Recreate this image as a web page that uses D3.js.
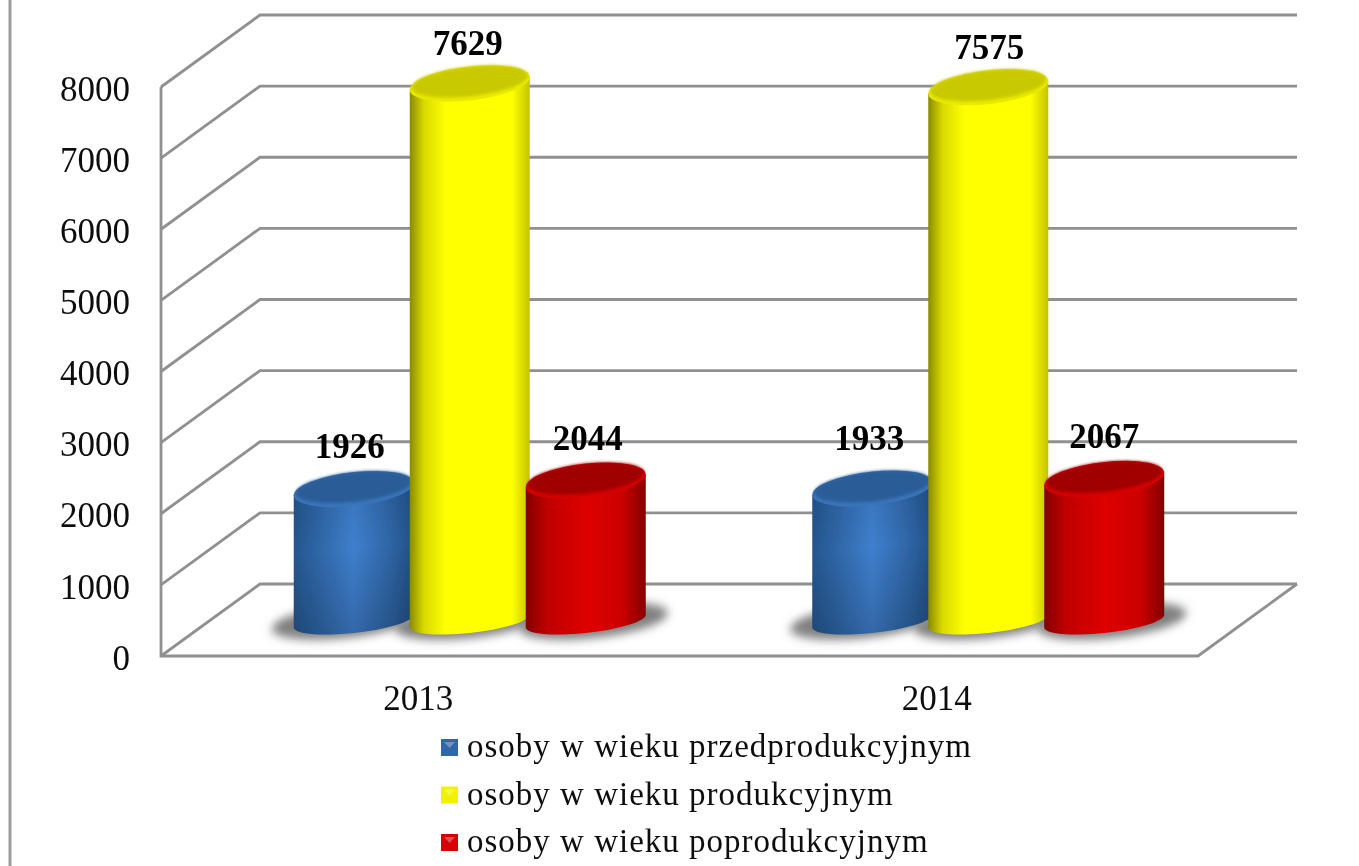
<!DOCTYPE html>
<html>
<head>
<meta charset="utf-8">
<script src="https://cdnjs.cloudflare.com/ajax/libs/d3/7.8.5/d3.min.js"></script>
<style>
  html, body { margin: 0; padding: 0; background: #fff; }
  svg { display: block; }
  text { font-family: "Liberation Serif", serif; }
</style>
</head>
<body>
<svg id="chart" width="1359" height="866"></svg>
<script>
const categories = ['2013', '2014'];
const seriesNames = [
  'osoby w wieku przedprodukcyjnym',
  'osoby w wieku produkcyjnym',
  'osoby w wieku poprodukcyjnym'
];
const preValues = [1926, 1933];
const workValues = [7629, 7575];
const postValues = [2044, 2067];
const yTicks = [0, 1000, 2000, 3000, 4000, 5000, 6000, 7000, 8000];

const seriesValues = [preValues, workValues, postValues];
const seriesKeys = ['blue', 'yellow', 'red'];

// chart geometry, front plane of the box plus how far the back wall is shifted
const front = {left: 161, right: 1198, top: 87, bottom: 656};
const depth = {x: 99, y: 72};
const rx = 60, capRy = 17, baseRy = 12, skew = -0.105;

const svg = d3.select('#chart');
const defs = svg.append('defs');

const x = d3.scaleBand().domain(categories).range([front.left, front.right]);
const inner = d3.scaleBand().domain(d3.range(3)).range([-174, 174]);
const y = d3.scaleLinear().domain([0, 8000]).range([front.bottom, front.top]);

function hGrad(id, stops) {
  const g = defs.append('linearGradient').attr('id', id);
  stops.forEach(s => g.append('stop').attr('offset', s[0]).attr('stop-color', s[1]));
}
hGrad('side-blue', [[0, '#24568f'], [0.2, '#2f66a6'], [0.5, '#3f7fce'], [0.8, '#2f66a6'], [1, '#224f86']]);
hGrad('side-yellow', [[0, '#8a8a00'], [0.12, '#dada00'], [0.3, '#ffff00'], [0.85, '#ffff00'], [1, '#c4c400']]);
hGrad('side-red', [[0, '#840000'], [0.18, '#c00000'], [0.5, '#de0000'], [0.8, '#cc0000'], [1, '#840000']]);

const vShade = defs.append('linearGradient').attr('id', 'v-shade').attr('x2', 0).attr('y2', 1);
vShade.append('stop').attr('offset', 0).attr('stop-color', '#000').attr('stop-opacity', 0.08);
vShade.append('stop').attr('offset', 0.4).attr('stop-color', '#000').attr('stop-opacity', 0);
vShade.append('stop').attr('offset', 1).attr('stop-color', '#000').attr('stop-opacity', 0.18);

defs.append('filter').attr('id', 'shadow-blur').attr('x', '-20%').attr('y', '-60%').attr('width', '140%').attr('height', '220%')
  .append('feGaussianBlur').attr('stdDeviation', 5);
defs.append('filter').attr('id', 'soft').attr('x', '-5%').attr('y', '-5%').attr('width', '110%').attr('height', '110%')
  .append('feGaussianBlur').attr('stdDeviation', 0.7);
defs.append('filter').attr('id', 'rim-blur').attr('x', '-10%').attr('y', '-20%').attr('width', '120%').attr('height', '140%')
  .append('feGaussianBlur').attr('stdDeviation', 1.5);

const topColors = {
  blue: {rim: '#3a74ba', cap: '#2b5d98'},
  yellow: {rim: '#eaea00', cap: '#c9c900'},
  red: {rim: '#d80000', cap: '#a00000'}
};

const root = svg.append('g').attr('filter', 'url(#soft)');

// outer frame edge on the left
root.append('line')
  .attr('x1', 10).attr('x2', 10).attr('y1', 0).attr('y2', 866)
  .attr('stroke', '#9c9c9c').attr('stroke-width', 3);

// back wall grid lines with their diagonal on the side wall
const gridLine = d3.line();
root.append('g').selectAll('path')
  .data(yTicks)
  .join('path')
  .attr('fill', 'none')
  .attr('stroke', '#909090')
  .attr('stroke-width', 2.8)
  .attr('d', d => gridLine([
    [front.left, y(d)],
    [front.left + depth.x, y(d) - depth.y],
    [front.right + depth.x, y(d) - depth.y]
  ]));

// side wall front edge and the floor
root.append('path')
  .attr('fill', 'none')
  .attr('stroke', '#909090')
  .attr('stroke-width', 2.8)
  .attr('d', gridLine([
    [front.left, y(8000)],
    [front.left, y(0)],
    [front.right, y(0)],
    [front.right + depth.x, y(0) - depth.y]
  ]));

const barData = categories.flatMap((c, i) => seriesValues.map((vals, s) => ({
  cat: c, s, key: seriesKeys[s], value: vals[i]
})));

const cx = d => x(d.cat) + x.bandwidth() / 2 + depth.x / 2 + inner(d.s) + inner.bandwidth() / 2;
const baseY = y(0) - 35;
const topY = d => y(d.value) - 30;
const h = d => baseY - topY(d);

// floor shadows first so no bar is covered by a neighbour's shadow
root.append('g').selectAll('ellipse')
  .data(barData)
  .join('ellipse')
  .attr('transform', d => `matrix(1,${skew},0,1,${cx(d) + (d.s === 0 ? -8 : d.s === 2 ? 8 : 0)},${baseY})`)
  .attr('rx', rx + 14)
  .attr('ry', baseRy + 5)
  .attr('fill', '#808080')
  .attr('filter', 'url(#shadow-blur)');

const bars = root.append('g').selectAll('g')
  .data(barData)
  .join('g')
  .attr('transform', d => `matrix(1,${skew},0,1,${cx(d)},${baseY})`);

const sidePath = d => `M${-rx},${-h(d)}L${-rx},0A${rx},${baseRy} 0 0 0 ${rx},0L${rx},${-h(d)}Z`;

bars.append('path')
  .attr('d', sidePath)
  .attr('fill', d => `url(#side-${d.key})`);

// only the blue cylinders darken visibly towards top and bottom
bars.filter(d => d.key === 'blue').append('path')
  .attr('d', sidePath)
  .attr('fill', 'url(#v-shade)');

bars.append('ellipse')
  .attr('cy', d => -h(d))
  .attr('rx', rx)
  .attr('ry', capRy)
  .attr('fill', d => topColors[d.key].rim);

bars.append('ellipse')
  .attr('cy', d => -h(d) - 2)
  .attr('rx', rx - 2)
  .attr('ry', capRy - 2)
  .attr('fill', d => topColors[d.key].cap)
  .attr('filter', 'url(#rim-blur)');

// value labels, a few were moved by hand in the original
const labelNudge = {'2013-0': [-4, 0], '2013-1': [-2, 3], '2013-2': [2, 0], '2014-0': [-3, -8], '2014-1': [1, 3], '2014-2': [0, 0]};
root.append('g').selectAll('text')
  .data(barData)
  .join('text')
  .attr('x', d => cx(d) + labelNudge[d.cat + '-' + d.s][0])
  .attr('y', d => topY(d) - 31 + labelNudge[d.cat + '-' + d.s][1])
  .attr('text-anchor', 'middle')
  .attr('font-size', 35)
  .attr('font-weight', 'bold')
  .attr('fill', '#000')
  .text(d => d.value);

// axes only carry the labels, lines are part of the box above
const yAxis = d3.axisLeft(y).tickValues(yTicks).tickFormat(d3.format('d')).tickSize(0).tickPadding(31);
const gy = root.append('g').attr('transform', `translate(${front.left},2)`).call(yAxis);
gy.select('.domain').remove();
gy.selectAll('text').attr('font-size', 35).attr('fill', '#111').attr('font-family', '"Liberation Serif", serif');

const xAxis = d3.axisBottom(x).tickSize(0).tickPadding(29);
const gx = root.append('g').attr('transform', `translate(-2,${y(0)})`).call(xAxis);
gx.select('.domain').remove();
gx.selectAll('text').attr('font-size', 35).attr('fill', '#111').attr('font-family', '"Liberation Serif", serif');

// legend
const legendY = d3.scalePoint().domain(seriesNames).range([747, 842]);
const legendFill = ['#2f68aa', '#f2f200', '#d80000'];
const legend = root.append('g').selectAll('g')
  .data(seriesNames)
  .join('g')
  .attr('transform', d => `translate(441,${legendY(d)})`);
legend.append('rect')
  .attr('y', -8).attr('width', 17).attr('height', 17)
  .attr('fill', (d, i) => legendFill[i]);
legend.append('path')
  .attr('d', 'M3,-5L14,-5L8.5,1Z')
  .attr('fill', '#fff')
  .attr('opacity', 0.3);
legend.append('text')
  .attr('x', 26)
  .attr('y', 10)
  .attr('font-size', 33)
  .attr('letter-spacing', 1)
  .attr('fill', '#111')
  .text(d => d);
</script>
</body>
</html>
